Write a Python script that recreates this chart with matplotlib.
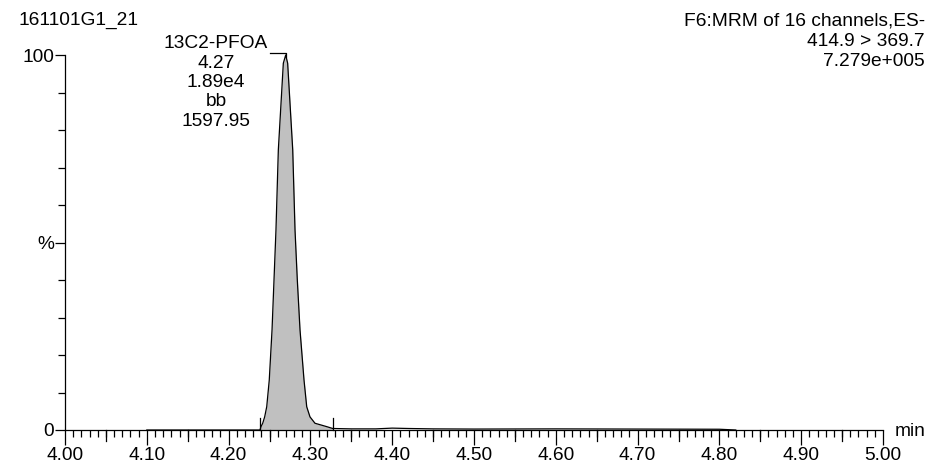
import matplotlib
matplotlib.use("Agg")
import matplotlib.pyplot as plt
from matplotlib.ticker import MultipleLocator
import numpy as np

plt.rcParams['font.family'] = ['Liberation Sans', 'DejaVu Sans']

# --- data -------------------------------------------------------------
sample_name = "161101G1_21"
header_lines = ["F6:MRM of 16 channels,ES-", "414.9 > 369.7", "7.279e+005"]
peak_label_lines = ["13C2-PFOA", "4.27", "1.89e4", "bb", "1597.95"]

time_min = [4.100, 4.200, 4.2384, 4.2396, 4.2417, 4.2441, 4.2466, 4.2497, 4.2531,
            4.2555, 4.2579, 4.2608, 4.2669, 4.2698, 4.2722, 4.2784, 4.2812,
            4.2840, 4.2873, 4.2922, 4.2955, 4.2995, 4.3056, 4.3199, 4.3273,
            4.350, 4.380, 4.400, 4.420, 4.450, 4.500, 4.600, 4.700, 4.800, 4.820]
intensity_pct = [0.0, 0.0, 0.0, 0.9, 1.8, 3.5, 6.2, 13.3, 26.7,
                 40.0, 53.3, 74.7, 97.8, 100.0, 97.8, 74.7, 53.3,
                 40.0, 26.7, 13.3, 6.2, 3.5, 1.8, 0.9, 0.4,
                 0.3, 0.3, 0.5, 0.4, 0.3, 0.25, 0.3, 0.25, 0.2, 0.0]
peak_start = 4.2384
peak_end = 4.3273

x_ticks = [4.00, 4.10, 4.20, 4.30, 4.40, 4.50, 4.60, 4.70, 4.80, 4.90, 5.00]

# --- figure -----------------------------------------------------------
W, H = 932, 463
fig = plt.figure(figsize=(W / 100, H / 100), dpi=100)
L, R, T, B = 65, 883, 55, 430
ax = fig.add_axes([L / W, 1 - B / H, (R - L) / W, (B - T) / H])

t = np.array(time_min)
y = np.array(intensity_pct)

mask = (t >= peak_start) & (t <= peak_end)
ax.fill_between(t[mask], 0, y[mask], color='#c0c0c0', lw=0)
ax.plot(t, y, color='black', lw=0.9, clip_on=False)

# integration markers
for xm in (peak_start, peak_end):
    ax.plot([xm, xm], [0, 3.2], color='black', lw=0.9, clip_on=False)

# leader line to apex
ip = int(np.argmax(y))
ax.plot([4.2506, t[ip], t[ip]], [100.5, 100.5, 99.5], color='black', lw=0.9, clip_on=False)

ax.set_xlim(4.0, 5.0)
ax.set_ylim(0, 100)
for s in ('top', 'right'):
    ax.spines[s].set_visible(False)
for s in ('left', 'bottom'):
    ax.spines[s].set_linewidth(0.9)

fs = 13.8
ax.set_xticks(x_ticks)
ax.set_xticklabels([f"{v:.2f}" for v in x_ticks], fontsize=fs)
ax.xaxis.set_minor_locator(MultipleLocator(0.01))
ax.tick_params(axis='x', which='major', direction='out', length=11, width=0.9, pad=1)
ax.tick_params(axis='x', which='minor', direction='out', length=5, width=0.9)
# medium ticks at 0.05
ax2_ticks = [v + 0.05 for v in x_ticks[:-1]]
for xv in ax2_ticks:
    ax.plot([xv, xv], [0, -2.9], color='black', lw=0.9, clip_on=False)

ax.set_yticks([0, 50, 100])
ax.set_yticklabels(["0", "%", "100"], fontsize=fs)
ax.yaxis.set_minor_locator(MultipleLocator(10))
ax.tick_params(axis='y', which='major', direction='out', length=7, width=0.9, pad=1)
ax.tick_params(axis='y', which='minor', direction='out', length=5, width=0.9)

# texts
fig.text(18 / W, 1 - 20 / H, sample_name, fontsize=fs, ha='left', va='center')
for i, line in enumerate(header_lines):
    fig.text(925 / W, 1 - (21 + i * 20.5) / H, line, fontsize=fs, ha='right', va='center')
for i, line in enumerate(peak_label_lines):
    fig.text(216 / W, 1 - (44 + i * 19.3) / H, line, fontsize=fs, ha='center', va='center')
fig.text(895 / W, 1 - 431 / H, "min", fontsize=fs, ha='left', va='center')

fig.savefig("out.png", dpi=100)
